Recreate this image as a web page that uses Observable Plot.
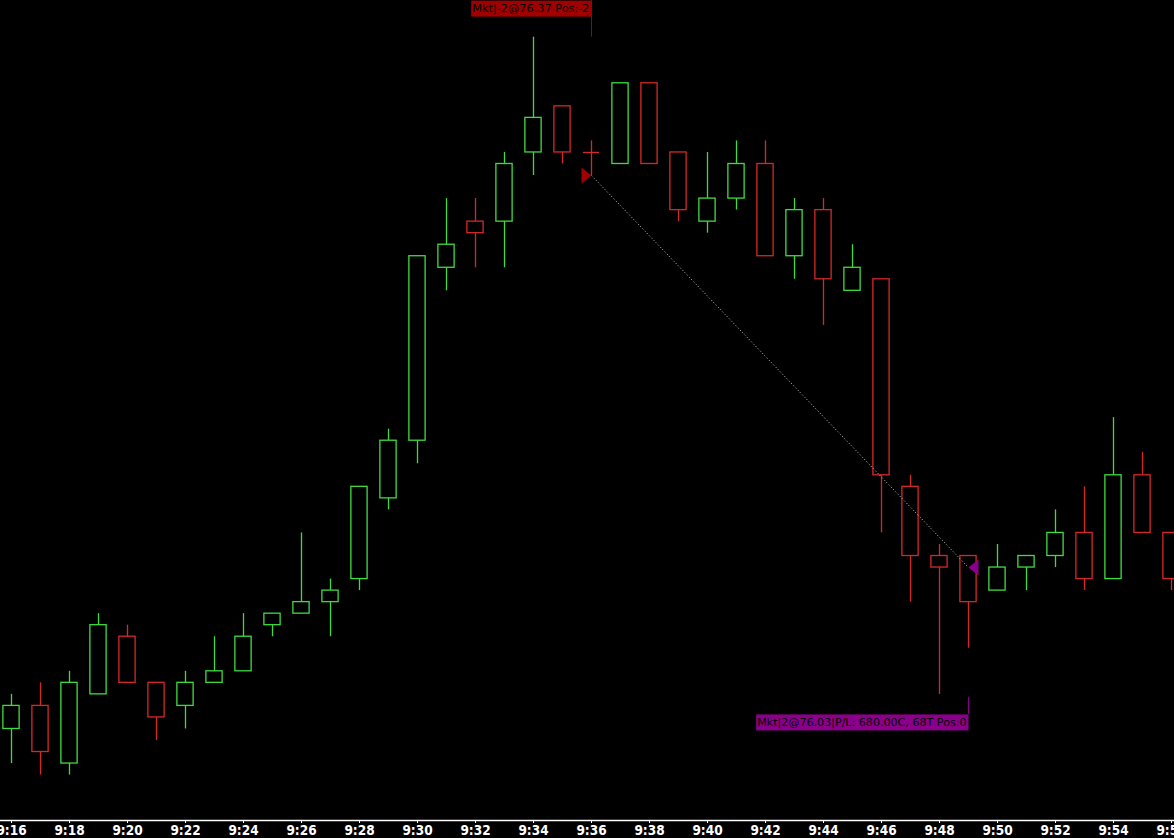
<!DOCTYPE html>
<html><head><meta charset="utf-8">
<script src="https://cdn.jsdelivr.net/npm/d3@7"></script>
<script src="https://cdn.jsdelivr.net/npm/@observablehq/plot@0.6"></script>
<style>
html,body{margin:0;padding:0;background:#000;overflow:hidden}
#chart svg{display:block}
</style></head><body><div id="chart"></div>
<script>
const times  = ["9:16","9:17","9:18","9:19","9:20","9:21","9:22","9:23","9:24","9:25","9:26","9:27","9:28","9:29","9:30","9:31","9:32","9:33","9:34","9:35","9:36","9:37","9:38","9:39","9:40","9:41","9:42","9:43","9:44","9:45","9:46","9:47","9:48","9:49","9:50","9:51","9:52","9:53","9:54","9:55","9:56"];
const opens  = [75.89,75.91,75.86,75.92,75.97,75.93,75.91,75.93,75.94,75.98,75.99,76.00,76.02,76.09,76.14,76.29,76.33,76.33,76.39,76.43,76.39,76.38,76.45,76.39,76.33,76.35,76.38,76.30,76.34,76.27,76.28,76.10,76.04,76.04,76.01,76.03,76.04,76.06,76.02,76.11,76.06];
const highs  = [75.92,75.93,75.94,75.99,75.98,75.93,75.94,75.97,75.99,75.99,76.06,76.02,76.10,76.15,76.30,76.35,76.35,76.39,76.49,76.43,76.40,76.45,76.45,76.39,76.39,76.40,76.40,76.35,76.35,76.31,76.28,76.11,76.05,76.04,76.05,76.04,76.08,76.10,76.16,76.13,76.06];
const lows   = [75.86,75.85,75.85,75.92,75.93,75.88,75.89,75.93,75.94,75.97,75.99,75.97,76.01,76.08,76.12,76.27,76.29,76.29,76.37,76.38,76.37,76.38,76.38,76.33,76.32,76.34,76.30,76.28,76.24,76.27,76.06,76.00,75.92,75.96,76.01,76.01,76.03,76.01,76.02,76.06,76.01];
const closes = [75.91,75.87,75.93,75.98,75.93,75.90,75.93,75.94,75.97,75.99,76.00,76.01,76.10,76.14,76.30,76.31,76.32,76.38,76.42,76.39,76.39,76.45,76.38,76.34,76.35,76.38,76.30,76.34,76.28,76.29,76.11,76.04,76.03,76.00,76.03,76.04,76.06,76.02,76.11,76.06,76.02];
const tickTimes = ["9:16","9:18","9:20","9:22","9:24","9:26","9:28","9:30","9:32","9:34","9:36","9:38","9:40","9:42","9:44","9:46","9:48","9:50","9:52","9:54","9:56"];
const entryTime = "9:36", entryPrice = 76.37, entryText = "Mkt|-2@76.37 Pos:-2";
const exitTime  = "9:49", exitPrice  = 76.03, exitText  = "Mkt|2@76.03|P/L: 680.00C, 68T Pos:0";

const GREEN = "#3fdc3f", RED = "#d62828", ENTRY = "#a00000", EXIT = "#8b008b";
const bars = times.map((t, i) => ({i, t, open: opens[i], high: highs[i], low: lows[i], close: closes[i],
  dir: closes[i] > opens[i] ? "up" : "down"}));
const idx = t => times.indexOf(t);
const ei = idx(entryTime), xi = idx(exitTime);
const yDomain = [75.8106, 76.5218];
const tradeHigh = d3.max(highs);
const tradeLow = d3.min(bars.filter(d => d.i >= ei && d.i <= xi), d => d.low);
const entry = {i: ei, price: entryPrice, label: entryText, top: yDomain[1], hi: tradeHigh};
const exit = {i: xi, price: exitPrice, label: exitText, lo: tradeLow};
const triRight = {draw(c){c.moveTo(-10,-8);c.lineTo(0,0);c.lineTo(-10,8);c.closePath();}};
const triLeft  = {draw(c){c.moveTo(10,-8);c.lineTo(0,0);c.lineTo(10,8);c.closePath();}};
const labelFont = "DejaVu Sans, sans-serif";

const plot = Plot.plot({
  width: 1174, height: 838,
  marginTop: 0, marginBottom: 18, marginLeft: 0, marginRight: 0,
  style: {background: "black", color: "white", fontFamily: "'Liberation Sans Narrow','DejaVu Sans Condensed','Roboto Condensed',sans-serif", fontSize: "13.5px", fontWeight: "bold"},
  x: {domain: [-11/29, -11/29 + 1174/29], axis: null},
  y: {domain: yDomain, axis: null},
  color: {domain: ["up", "down"], range: [GREEN, RED]},
  marks: [
    Plot.ruleY([yDomain[0]], {stroke: "white", strokeWidth: 1.5}),
    Plot.axisX(tickTimes.map(idx), {tickFormat: i => times[i], tickSize: 3, tickPadding: 2, label: null, stroke: "white", fill: "white"}),
    Plot.ruleX(bars, {x: "i", y1: "low", y2: "high", stroke: "dir", strokeWidth: 1.3}),
    Plot.rect(bars.filter(d => d.open !== d.close), {x1: d => d.i - 0.28, x2: d => d.i + 0.28, y1: "open", y2: "close", fill: "black", stroke: "dir", strokeWidth: 1.3}),
    Plot.ruleY(bars.filter(d => d.open === d.close), {y: "open", x1: d => d.i - 0.28, x2: d => d.i + 0.28, stroke: "dir", strokeWidth: 1.3}),
    Plot.link([{entry, exit}], {x1: d => d.entry.i, y1: d => d.entry.price, x2: d => d.exit.i, y2: d => d.exit.price, stroke: "#d0d0d0", strokeWidth: 1, strokeDasharray: "1,2.2"}),
    Plot.dot([entry], {x: "i", y: "price", symbol: triRight, fill: ENTRY, stroke: null, r: 8}),
    Plot.dot([exit], {x: "i", y: "price", symbol: triLeft, fill: EXIT, stroke: null, r: 8}),
    Plot.ruleX([entry], {x: "i", y1: "hi", y2: "top", stroke: ENTRY, strokeWidth: 1}),
    Plot.ruleX([exit], {x: "i", y1: "lo", y2: "lo", insetTop: 3, insetBottom: -20, stroke: EXIT, strokeWidth: 1}),
    Plot.text([entry], {x: "i", frameAnchor: "top", lineAnchor: "middle", dy: 8, dx: -2, text: "label", textAnchor: "end", fill: "black", fontSize: 11.3, fontFamily: labelFont, fontWeight: "normal"}),
    Plot.text([exit], {x: "i", y: "lo", lineAnchor: "middle", dy: 28, dx: -2, text: "label", textAnchor: "end", fill: "black", fontSize: 11.1, fontFamily: labelFont, fontWeight: "normal"})
  ]
});
document.getElementById("chart").append(plot);
for (const [label, color] of [[entryText, ENTRY], [exitText, EXIT]]) {
  plot.querySelectorAll("text").forEach(t => {
    if (t.textContent !== label) return;
    const b = t.getBBox();
    const r = document.createElementNS("http://www.w3.org/2000/svg", "rect");
    const cy = b.y + b.height / 2;
    r.setAttribute("x", b.x - 1);
    r.setAttribute("y", cy - 8);
    r.setAttribute("width", b.width + 3);
    r.setAttribute("height", 16);
    r.setAttribute("fill", color);
    if (t.getAttribute("transform")) r.setAttribute("transform", t.getAttribute("transform"));
    t.parentNode.insertBefore(r, t);
  });
}
</script>
</body></html>
